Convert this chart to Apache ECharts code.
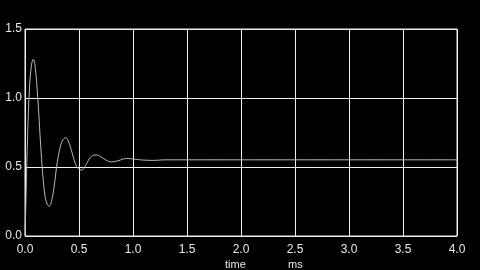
<!DOCTYPE html>
<html><head><meta charset="utf-8">
<script src="https://cdn.jsdelivr.net/npm/echarts@6/dist/echarts.min.js"></script>
<style>html,body{margin:0;padding:0;background:#000;}#c{width:480px;height:270px;}</style>
</head><body><div id="c"></div>
<script>
const times = [0, 0.01, 0.02, 0.04, 0.06, 0.077, 0.095, 0.12, 0.15, 0.18, 0.205, 0.225, 0.245, 0.27, 0.30, 0.335, 0.36, 0.377, 0.40, 0.43, 0.46, 0.49, 0.525, 0.56, 0.6, 0.635, 0.664, 0.70, 0.75, 0.80, 0.86, 0.94, 1.02, 1.1, 1.19, 1.3, 1.5, 2.0, 2.5, 3.0, 3.5, 4.0];
const values = [0, 0.3, 0.62, 1.05, 1.24, 1.28, 1.22, 0.98, 0.6, 0.32, 0.23, 0.217, 0.25, 0.36, 0.54, 0.67, 0.705, 0.712, 0.69, 0.62, 0.54, 0.49, 0.478, 0.51, 0.565, 0.585, 0.587, 0.575, 0.55, 0.537, 0.545, 0.562, 0.556, 0.55, 0.548, 0.552, 0.552, 0.552, 0.552, 0.552, 0.552, 0.552];
const xTicks = ['0.0','0.5','1.0','1.5','2.0','2.5','3.0','3.5','4.0'];
const yTicks = ['0.0','0.5','1.0','1.5'];
const xName = 'time';
const xUnit = 'ms';

const chart = echarts.init(document.getElementById('c'));
const font = 'Liberation Sans, Arial, sans-serif';
chart.setOption({
  backgroundColor: '#000',
  animation: false,
  grid: {left: 25, right: 23, top: 29, bottom: 34, show: true, borderColor: '#f0f0f0', borderWidth: 1, containLabel: false},
  xAxis: {
    type: 'value', min: 0, max: 4, interval: 0.5,
    axisLine: {show: false}, axisTick: {show: false},
    splitLine: {show: true, lineStyle: {color: '#f0f0f0', width: 1}},
    axisLabel: {color: '#e8e8e8', fontSize: 12, fontFamily: font, margin: 8,
      formatter: v => xTicks[Math.round(v / 0.5)]}
  },
  yAxis: {
    type: 'value', min: 0, max: 1.5, interval: 0.5,
    axisLine: {show: false}, axisTick: {show: false},
    splitLine: {show: true, lineStyle: {color: '#f0f0f0', width: 1}},
    axisLabel: {color: '#e8e8e8', fontSize: 12, fontFamily: font, margin: 3,
      formatter: v => yTicks[Math.round(v / 0.5)]}
  },
  graphic: [
    {type: 'text', left: 225, top: 259, style: {text: xName, fill: '#e8e8e8', font: '11px ' + font}},
    {type: 'text', left: 288, top: 259, style: {text: xUnit, fill: '#e8e8e8', font: '11px ' + font}}
  ],
  series: [{
    type: 'line', smooth: 0.4, symbol: 'none',
    lineStyle: {color: '#a8c8a0', width: 1},
    data: times.map((t, i) => [t, values[i]])
  }]
});
</script></body></html>
